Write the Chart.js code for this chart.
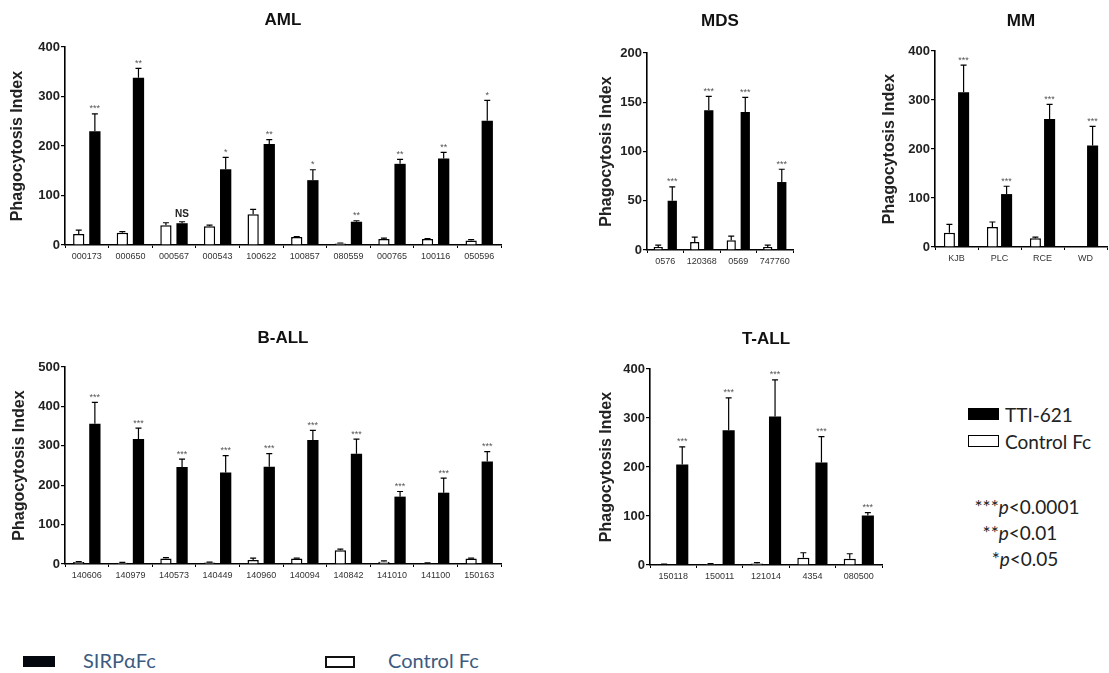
<!DOCTYPE html>
<html><head><meta charset="utf-8">
<script src="https://cdn.jsdelivr.net/npm/chart.js@4.4.0/dist/chart.umd.min.js"></script>
<style>
html,body{margin:0;padding:0;background:#fff;width:1109px;height:673px;overflow:hidden;position:relative;font-family:"Liberation Sans",Arial,sans-serif}
.box{position:absolute}
.lg{position:absolute;font-family:Lato,"Liberation Sans",sans-serif;color:#222;white-space:nowrap;line-height:19px;font-size:19px}
.bl{position:absolute;font-family:Lato,"Liberation Sans",sans-serif;color:#3d5a80;white-space:nowrap;line-height:20px;font-size:20px}
</style></head><body>
<div class="box" style="left:0px;top:0px;width:505px;height:265px"><canvas id="aml"></canvas></div>
<div class="box" style="left:590px;top:0px;width:207px;height:270px"><canvas id="mds"></canvas></div>
<div class="box" style="left:872px;top:0px;width:237px;height:267px"><canvas id="mm"></canvas></div>
<div class="box" style="left:0px;top:300px;width:505px;height:284px"><canvas id="ball"></canvas></div>
<div class="box" style="left:590px;top:300px;width:296px;height:285px"><canvas id="tall"></canvas></div>

<div style="position:absolute;left:968px;top:408px;width:31px;height:12px;background:#000"></div>
<div class="lg" style="left:1005px;top:405px">TTI-621</div>
<div style="position:absolute;left:968px;top:435px;width:31px;height:12px;border:1.5px solid #000;box-sizing:border-box;background:#fff"></div>
<div class="lg" style="left:1005px;top:432px">Control Fc</div>
<div class="lg" style="left:950px;width:154px;text-align:center;top:497px">***<i>p</i>&lt;0.0001</div>
<div class="lg" style="left:950px;width:140px;text-align:center;top:523px">**<i>p</i>&lt;0.01</div>
<div class="lg" style="left:950px;width:150px;text-align:center;top:549px">*<i>p</i>&lt;0.05</div>

<div style="position:absolute;left:23px;top:656px;width:32px;height:11px;background:#05070f"></div>
<div class="bl" style="left:83px;top:650px">SIRPαFc</div>
<div style="position:absolute;left:325px;top:656px;width:30px;height:12px;border:2px solid #111;box-sizing:border-box;background:#fff"></div>
<div class="bl" style="left:388px;top:650px">Control Fc</div>

<script>
// ---------- DATA ----------
const amlLabels = ["000173","000650","000567","000543","100622","100857","080559","000765","100116","050596"];
const amlControl = [22,25,40,38,62,16,3,12,12,9];
const amlControlErr = [30,27,45,40,72,17,4,14,13,11];
const amlTTI = [230,338,44,153,204,131,47,164,175,251];
const amlTTIErr = [265,357,47,177,213,152,49,173,187,292];
const amlStars = ["***","**","NS","*","**","*","**","**","**","*"];

const mdsLabels = ["0576","120368","0569","747760"];
const mdsControl = [3,8,10,3];
const mdsControlErr = [5,13,14,5];
const mdsTTI = [50,142,140,69];
const mdsTTIErr = [64,156,155,82];
const mdsStars = ["***","***","***","***"];

const mmLabels = ["KJB","PLC","RCE","WD"];
const mmControl = [29,41,18,null];
const mmControlErr = [46,51,20,null];
const mmTTI = [316,108,261,207];
const mmTTIErr = [371,124,291,246];
const mmStars = ["***","***","***","***"];

const ballLabels = ["140606","140979","140573","140449","140960","140094","140842","141010","141100","150163"];
const ballControl = [5,3,14,4,10,14,35,6,2,14];
const ballControlErr = [6,4,16,5,15,15,38,8,3,15];
const ballTTI = [356,317,246,232,247,315,280,171,181,260];
const ballTTIErr = [410,345,266,275,280,339,317,184,218,285];
const ballStars = ["***","***","***","***","***","***","***","***","***","***"];

const tallLabels = ["150118","150011","121014","4354","080500"];
const tallControl = [1,2,3,15,13];
const tallControlErr = [2,3,5,25,23];
const tallTTI = [205,275,303,209,101];
const tallTTIErr = [241,341,378,262,107];
const tallStars = ["***","***","***","***","***"];

const yTicksAML = 100, yTicksMDS = 50;

// ---------- DECORATION PLUGIN ----------
const panelInfo = {};
const deco = {
  id: 'deco',
  afterDatasetsDraw(chart) {
    const info = panelInfo[chart.canvas.id];
    if (!info) return;
    const ctx = chart.ctx, ys = chart.scales.y;
    [info.ctrlErr, info.ttiErr].forEach((errArr, di) => {
      const meta = chart.getDatasetMeta(di);
      meta.data.forEach((bar, i) => {
        const e = errArr[i], v = chart.data.datasets[di].data[i];
        if (e == null || v == null) return;
        const x = bar.x, y0 = ys.getPixelForValue(v), y1 = ys.getPixelForValue(e);
        ctx.save();
        ctx.strokeStyle = '#000'; ctx.lineWidth = 1.2;
        ctx.beginPath();
        ctx.moveTo(x, y0); ctx.lineTo(x, y1);
        ctx.moveTo(x - 3, y1); ctx.lineTo(x + 3, y1);
        ctx.stroke();
        ctx.restore();
      });
    });
    const meta = chart.getDatasetMeta(1);
    info.stars.forEach((s, i) => {
      const bar = meta.data[i];
      const yy = ys.getPixelForValue(info.ttiErr[i]) - 6;
      ctx.save();
      ctx.textAlign = 'center'; ctx.textBaseline = 'middle';
      if (s === 'NS') { ctx.font = 'bold 10px "Liberation Sans"'; ctx.fillStyle = '#222'; ctx.fillText(s, bar.x, yy - 1); }
      else { ctx.font = '9px "Liberation Sans"'; ctx.fillStyle = '#555'; ctx.fillText(s, bar.x, yy + 1); }
      ctx.restore();
    });
    const ca = chart.chartArea;
    ctx.save();
    ctx.font = 'bold 17px "Liberation Sans"'; ctx.textAlign = 'center'; ctx.textBaseline = 'middle'; ctx.fillStyle = '#111';
    ctx.fillText(info.title, (ca.left + ca.right) / 2, info.titleY);
    ctx.restore();
  }
};

function makeChart(id, title, titleY, labels, ctrl, ctrlErr, tti, ttiErr, stars, ymax, step, yWidth, titlePad, padTop, padRight, cp, bp) {
  panelInfo[id] = {title, titleY, ctrlErr, ttiErr, stars};
  new Chart(document.getElementById(id), {
    type: 'bar',
    data: {
      labels: labels,
      datasets: [
        {label: 'Control Fc', data: ctrl, backgroundColor: '#fff', borderColor: '#000', borderWidth: 1.5, categoryPercentage: cp, barPercentage: bp},
        {label: 'TTI-621', data: tti, backgroundColor: '#000', borderColor: '#000', borderWidth: 0, categoryPercentage: cp, barPercentage: bp}
      ]
    },
    options: {
      responsive: true, maintainAspectRatio: false, animation: false,
      layout: {padding: {top: padTop, right: padRight, left: 0, bottom: 0}},
      plugins: {legend: {display: false}, tooltip: {enabled: false}, title: {display: false}},
      scales: {
        x: {
          grid: {display: true, drawOnChartArea: false, drawTicks: true, tickLength: 3, color: '#000', lineWidth: 1},
          border: {display: true, color: '#000', width: 1.6},
          ticks: {color: '#333', font: {size: 9, family: 'Liberation Sans'}, maxRotation: 0, minRotation: 0, autoSkip: false, padding: 3},
          afterFit(s) { s.height = 20; }
        },
        y: {
          min: 0, max: ymax,
          grid: {display: true, drawOnChartArea: false, drawTicks: true, tickLength: 4, color: '#000', lineWidth: 1.2},
          border: {display: true, color: '#000', width: 1.6},
          ticks: {stepSize: step, color: '#222', font: {size: 13, weight: 'bold', family: 'Liberation Sans'}, padding: 1},
          title: {display: true, text: 'Phagocytosis Index', color: '#222', font: {size: 16, weight: 'bold', family: 'Liberation Sans'}, padding: {top: titlePad, bottom: 0}},
          afterFit(s) { s.width = yWidth; }
        }
      }
    },
    plugins: [deco]
  });
}

makeChart('aml', 'AML', 20, amlLabels, amlControl, amlControlErr, amlTTI, amlTTIErr, amlStars, 400, yTicksAML, 65, 8, 47, 4, 0.74, 0.7);
makeChart('mds', 'MDS', 21.5, mdsLabels, mdsControl, mdsControlErr, mdsTTI, mdsTTIErr, mdsStars, 200, yTicksMDS, 57, 7, 53, 4, 0.77, 0.66);
makeChart('mm', 'MM', 21, mmLabels, mmControl, mmControlErr, mmTTI, mmTTIErr, mmStars, 400, yTicksAML, 63, 8, 51, 2, 0.66, 0.78);
makeChart('ball', 'B-ALL', 38, ballLabels, ballControl, ballControlErr, ballTTI, ballTTIErr, ballStars, 500, yTicksAML, 65, 10, 67, 4, 0.74, 0.7);
makeChart('tall', 'T-ALL', 39.5, tallLabels, tallControl, tallControlErr, tallTTI, tallTTIErr, tallStars, 400, yTicksAML, 60, 7, 69, 4, 0.78, 0.67);
</script>
</body></html>
